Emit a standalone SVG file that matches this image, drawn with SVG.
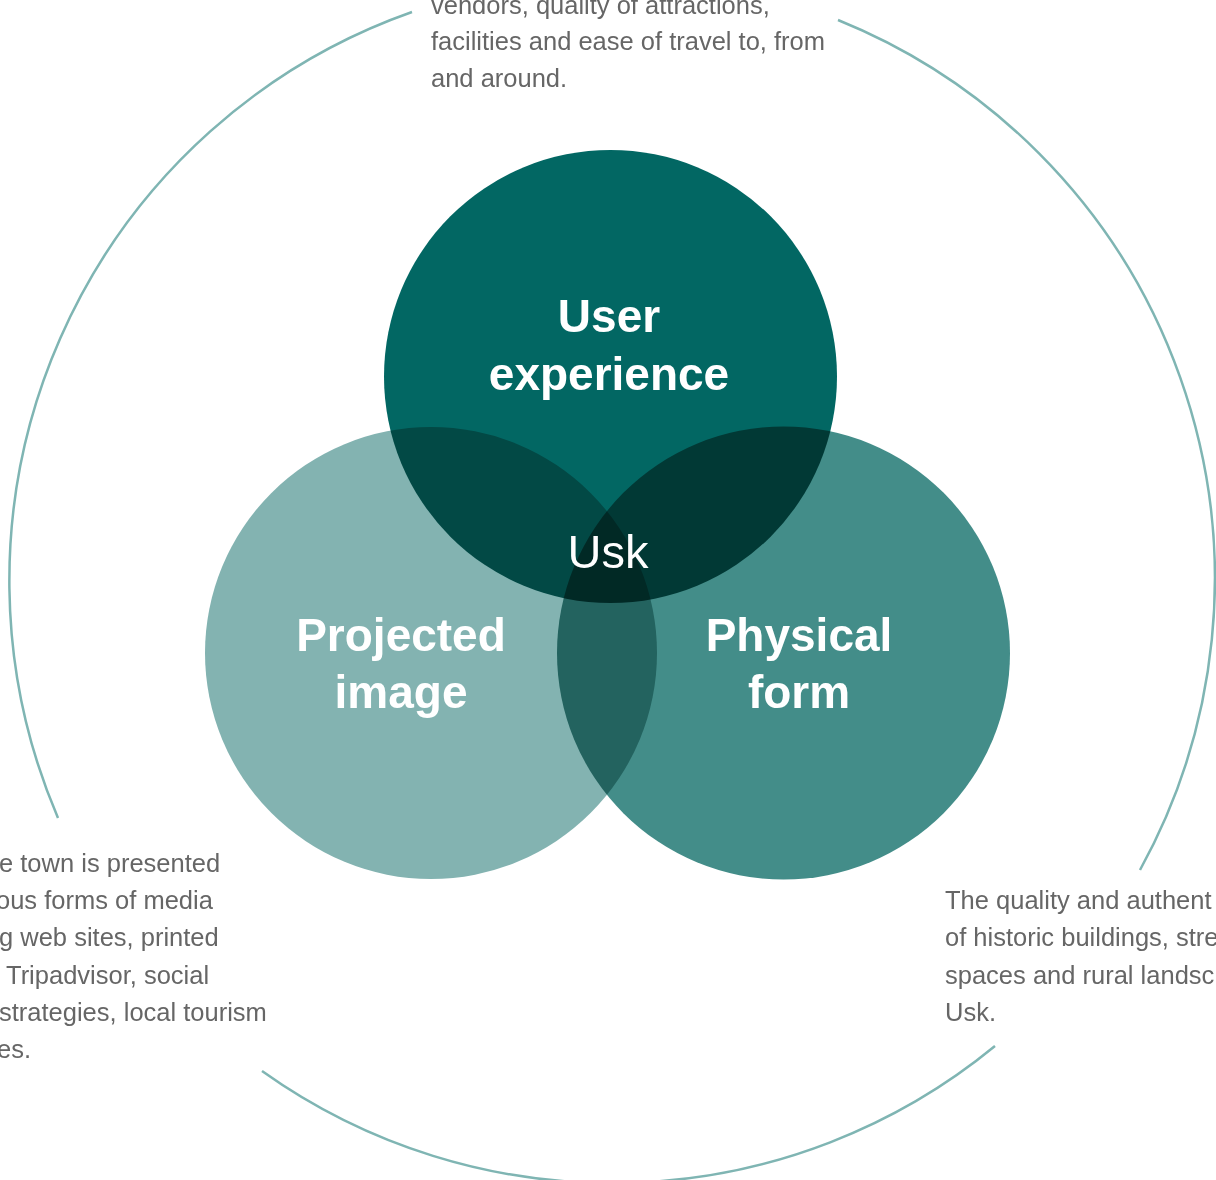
<svg xmlns="http://www.w3.org/2000/svg" width="1216" height="1180" viewBox="0 0 1216 1180">
  <style>
    .ring { fill: none; stroke: #7fb5b3; stroke-width: 2.5; stroke-linecap: butt; }
    .blob { mix-blend-mode: multiply; }
    .title { font-family: "Liberation Sans", Arial, sans-serif; font-weight: bold; font-size: 46px; fill: #ffffff; text-anchor: middle; }
    .center { font-family: "Liberation Sans", Arial, sans-serif; font-size: 47px; fill: #ffffff; text-anchor: middle; }
    .desc { font-family: "Liberation Sans", Arial, sans-serif; font-size: 25.5px; fill: #666666; }
  </style>
  <rect x="0" y="0" width="1216" height="1180" fill="#ffffff"/>

  <g id="connectors">
    <path class="ring" d="M58 818 A603 603 0 0 1 412 12"/>
    <path class="ring" d="M838 20 A603 603 0 0 1 1140 870"/>
    <path class="ring" d="M995 1046 A603 603 0 0 1 262 1071"/>
  </g>

  <g id="node-user-experience">
    <circle class="blob" cx="610.5" cy="376.5" r="226.5" fill="#026763"/>
  </g>
  <g id="node-projected-image">
    <circle class="blob" cx="431" cy="653" r="226" fill="#83b3b1"/>
  </g>
  <g id="node-physical-form">
    <circle class="blob" cx="783.5" cy="653" r="226.5" fill="#438d89"/>
  </g>

  <g id="labels">
    <text class="title" x="609" y="332">User</text>
    <text class="title" x="609" y="390">experience</text>
    <text class="title" x="401" y="651">Projected</text>
    <text class="title" x="401" y="708">image</text>
    <text class="title" x="799" y="651">Physical</text>
    <text class="title" x="799" y="708">form</text>
  </g>

  <g id="node-usk">
    <text class="center" x="608" y="568">Usk</text>
  </g>

  <g id="desc-user-experience">
    <text class="desc" x="431" y="14">vendors, quality of attractions,</text>
    <text class="desc" x="431" y="50">facilities and ease of travel to, from</text>
    <text class="desc" x="431" y="87">and around.</text>
  </g>

  <g id="desc-projected-image">
    <text class="desc" x="-1" y="872">e town is presented</text>
    <text class="desc" x="-4" y="909">ous forms of media</text>
    <text class="desc" x="-1" y="946">g web sites, printed</text>
    <text class="desc" x="6" y="984">Tripadvisor, social</text>
    <text class="desc" x="-1" y="1021">strategies, local tourism</text>
    <text class="desc" x="-3" y="1058">es.</text>
  </g>

  <g id="desc-physical-form">
    <text class="desc" x="945" y="909">The quality and authent</text>
    <text class="desc" x="945" y="946">of historic buildings, stre</text>
    <text class="desc" x="945" y="984">spaces and rural landsc</text>
    <text class="desc" x="945" y="1021">Usk.</text>
  </g>
</svg>
